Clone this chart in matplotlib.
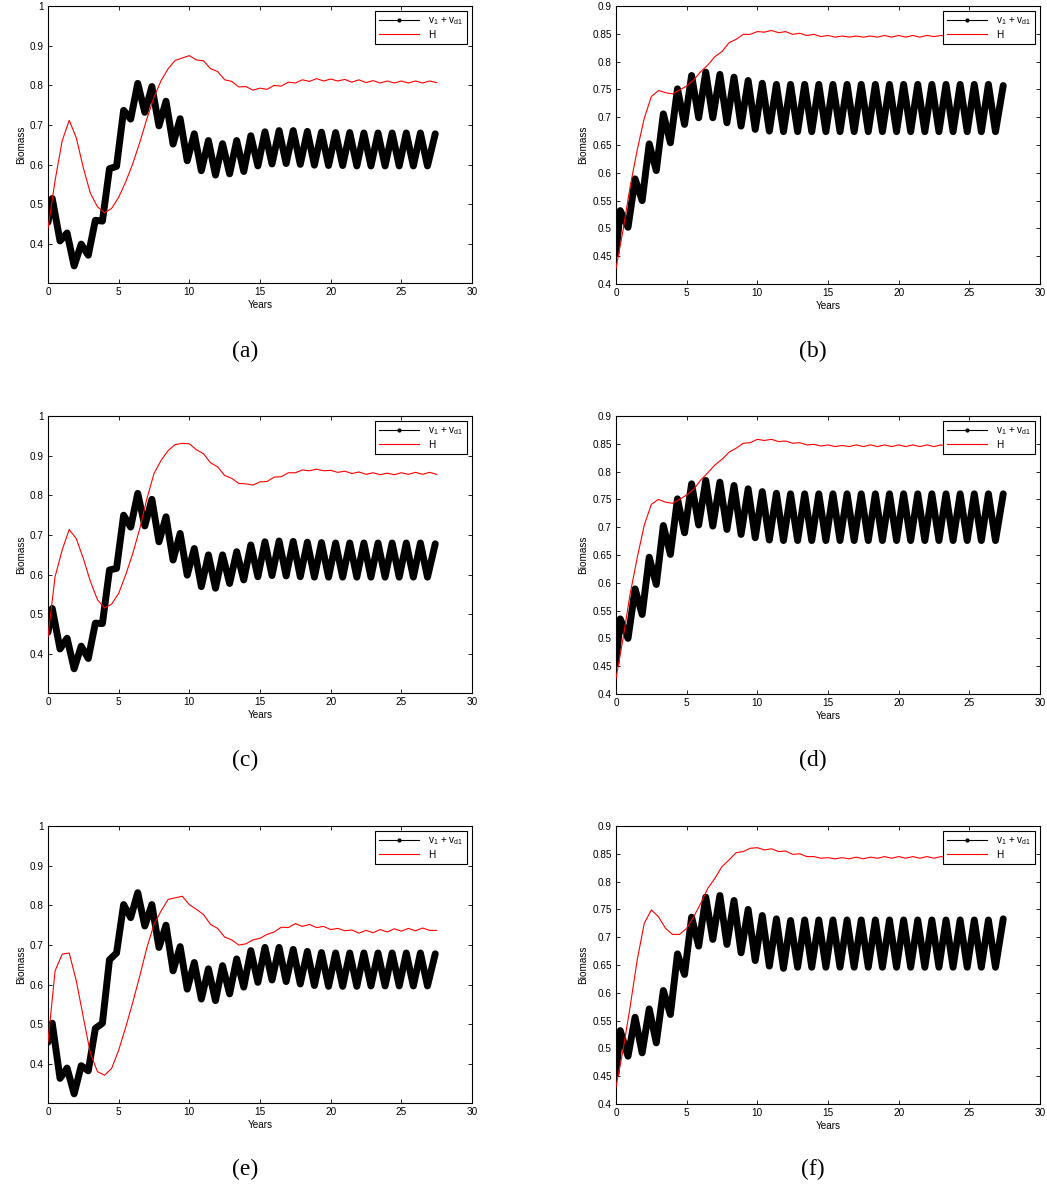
import matplotlib
matplotlib.use("Agg")
import matplotlib.pyplot as plt
from matplotlib.lines import Line2D

plt.rcParams["font.family"] = ["Liberation Sans", "DejaVu Sans"]
plt.rcParams["mathtext.fontset"] = "custom"
plt.rcParams["mathtext.rm"] = "Liberation Sans"
plt.rcParams["mathtext.it"] = "Liberation Sans"

# ---- time grids (years) ----
t_v = [0, 0.3, 0.85, 1.35, 1.85, 2.35, 2.85, 3.35, 3.85, 4.35, 4.85, 5.35,
       5.85, 6.35, 6.85, 7.35, 7.85, 8.35, 8.85, 9.35, 9.85, 10.35, 10.85,
       11.35, 11.85, 12.35, 12.85, 13.35, 13.85, 14.35, 14.85, 15.35, 15.85,
       16.35, 16.85, 17.35, 17.85, 18.35, 18.85, 19.35, 19.85, 20.35, 20.85,
       21.35, 21.85, 22.35, 22.85, 23.35, 23.85, 24.35, 24.85, 25.35, 25.85,
       26.35, 26.85, 27.4]

t_h = [0, 0.5, 1, 1.5, 2, 2.5, 3, 3.5, 4, 4.5, 5, 5.5, 6, 6.5, 7, 7.5, 8,
       8.5, 9, 9.5, 10, 10.5, 11, 11.5, 12, 12.5, 13, 13.5, 14, 14.5, 15,
       15.5, 16, 16.5, 17, 17.5, 18, 18.5, 19, 19.5, 20, 20.5, 21, 21.5, 22,
       22.5, 23, 23.5, 24, 24.5, 25, 25.5, 26, 26.5, 27, 27.5]

# ---- v1 + vd1 biomass ----
v_a = [0.455, 0.515, 0.408, 0.428, 0.345, 0.400, 0.372, 0.460, 0.458, 0.590,
       0.596, 0.737, 0.715, 0.805, 0.732, 0.797, 0.698, 0.760, 0.652, 0.716,
       0.610, 0.678, 0.585, 0.661, 0.574, 0.653, 0.577, 0.661, 0.583, 0.673,
       0.597, 0.683, 0.602, 0.686, 0.603, 0.686, 0.601, 0.684, 0.599, 0.682,
       0.598, 0.681, 0.598, 0.681, 0.597, 0.680, 0.597, 0.680, 0.597, 0.680,
       0.597, 0.680, 0.597, 0.680, 0.597, 0.678]
v_b = [0.455, 0.532, 0.502, 0.589, 0.550, 0.652, 0.604, 0.706, 0.654, 0.751,
       0.687, 0.775, 0.699, 0.781, 0.699, 0.777, 0.690, 0.772, 0.684, 0.766,
       0.678, 0.761, 0.675, 0.759, 0.674, 0.759, 0.674, 0.759, 0.674, 0.759,
       0.674, 0.759, 0.674, 0.759, 0.674, 0.759, 0.674, 0.759, 0.674, 0.759,
       0.674, 0.759, 0.674, 0.759, 0.674, 0.759, 0.674, 0.759, 0.674, 0.759,
       0.674, 0.759, 0.674, 0.759, 0.674, 0.757]
v_c = [0.455, 0.515, 0.413, 0.440, 0.363, 0.420, 0.389, 0.478, 0.477, 0.612,
       0.616, 0.750, 0.720, 0.805, 0.723, 0.790, 0.683, 0.746, 0.637, 0.704,
       0.599, 0.666, 0.570, 0.650, 0.566, 0.650, 0.578, 0.658, 0.587, 0.675,
       0.595, 0.683, 0.598, 0.685, 0.597, 0.684, 0.595, 0.682, 0.594, 0.681,
       0.594, 0.680, 0.594, 0.680, 0.594, 0.680, 0.594, 0.680, 0.594, 0.680,
       0.594, 0.680, 0.594, 0.680, 0.594, 0.678]
v_d = [0.455, 0.535, 0.500, 0.589, 0.543, 0.646, 0.597, 0.703, 0.651, 0.751,
       0.690, 0.778, 0.704, 0.784, 0.702, 0.781, 0.696, 0.775, 0.687, 0.769,
       0.681, 0.764, 0.677, 0.761, 0.676, 0.760, 0.676, 0.760, 0.676, 0.760,
       0.676, 0.760, 0.676, 0.760, 0.676, 0.760, 0.676, 0.760, 0.676, 0.760,
       0.676, 0.760, 0.676, 0.760, 0.676, 0.760, 0.676, 0.760, 0.676, 0.760,
       0.676, 0.760, 0.676, 0.760, 0.676, 0.760]
v_e = [0.455, 0.503, 0.364, 0.390, 0.325, 0.396, 0.383, 0.490, 0.503, 0.663,
       0.680, 0.802, 0.769, 0.832, 0.748, 0.802, 0.694, 0.750, 0.635, 0.696,
       0.589, 0.656, 0.564, 0.640, 0.560, 0.648, 0.577, 0.665, 0.594, 0.686,
       0.606, 0.694, 0.612, 0.694, 0.608, 0.689, 0.602, 0.684, 0.598, 0.681,
       0.596, 0.680, 0.596, 0.680, 0.596, 0.680, 0.597, 0.680, 0.597, 0.680,
       0.597, 0.680, 0.597, 0.680, 0.597, 0.678]
v_f = [0.455, 0.532, 0.486, 0.556, 0.492, 0.571, 0.510, 0.604, 0.561, 0.670,
       0.633, 0.736, 0.684, 0.772, 0.696, 0.775, 0.687, 0.766, 0.672, 0.750,
       0.658, 0.739, 0.648, 0.733, 0.644, 0.730, 0.646, 0.731, 0.646, 0.731,
       0.646, 0.731, 0.646, 0.731, 0.646, 0.731, 0.646, 0.731, 0.646, 0.731,
       0.646, 0.731, 0.646, 0.731, 0.646, 0.731, 0.646, 0.731, 0.646, 0.731,
       0.646, 0.731, 0.646, 0.731, 0.646, 0.733]

# ---- H biomass ----
h_a = [0.440, 0.560, 0.660, 0.712, 0.668, 0.592, 0.528, 0.494, 0.479, 0.490,
       0.518, 0.557, 0.603, 0.657, 0.716, 0.770, 0.812, 0.842, 0.863, 0.869,
       0.875, 0.864, 0.862, 0.842, 0.835, 0.814, 0.810, 0.796, 0.797, 0.788,
       0.793, 0.790, 0.800, 0.798, 0.808, 0.806, 0.814, 0.810, 0.817, 0.811,
       0.816, 0.811, 0.815, 0.808, 0.814, 0.807, 0.812, 0.806, 0.811, 0.806,
       0.811, 0.806, 0.811, 0.806, 0.811, 0.807]
h_b = [0.428, 0.497, 0.575, 0.641, 0.698, 0.737, 0.748, 0.744, 0.742, 0.749,
       0.756, 0.767, 0.782, 0.794, 0.809, 0.818, 0.834, 0.840, 0.849, 0.849,
       0.854, 0.853, 0.856, 0.852, 0.854, 0.849, 0.851, 0.847, 0.849, 0.845,
       0.847, 0.844, 0.846, 0.844, 0.846, 0.844, 0.846, 0.844, 0.847, 0.844,
       0.847, 0.844, 0.847, 0.844, 0.847, 0.845, 0.847, 0.845, 0.848, 0.845,
       0.848, 0.845, 0.848, 0.845, 0.848, 0.847]
h_c = [0.444, 0.595, 0.662, 0.714, 0.691, 0.641, 0.583, 0.537, 0.516, 0.526,
       0.553, 0.600, 0.654, 0.717, 0.792, 0.855, 0.888, 0.913, 0.928, 0.931,
       0.930, 0.915, 0.905, 0.882, 0.872, 0.850, 0.843, 0.830, 0.829, 0.826,
       0.834, 0.835, 0.846, 0.847, 0.857, 0.857, 0.864, 0.862, 0.866, 0.862,
       0.863, 0.858, 0.861, 0.855, 0.859, 0.853, 0.857, 0.852, 0.856, 0.852,
       0.857, 0.853, 0.858, 0.853, 0.858, 0.853]
h_d = [0.428, 0.500, 0.580, 0.645, 0.704, 0.741, 0.750, 0.745, 0.743, 0.750,
       0.758, 0.768, 0.785, 0.798, 0.812, 0.822, 0.835, 0.842, 0.851, 0.852,
       0.858, 0.856, 0.858, 0.854, 0.855, 0.851, 0.852, 0.848, 0.849, 0.846,
       0.848, 0.845, 0.847, 0.845, 0.848, 0.845, 0.848, 0.845, 0.848, 0.845,
       0.848, 0.845, 0.848, 0.845, 0.848, 0.845, 0.848, 0.845, 0.848, 0.845,
       0.848, 0.845, 0.848, 0.845, 0.848, 0.849]
h_e = [0.456, 0.635, 0.677, 0.680, 0.610, 0.518, 0.427, 0.381, 0.372, 0.389,
       0.435, 0.493, 0.556, 0.623, 0.694, 0.752, 0.786, 0.815, 0.819, 0.823,
       0.802, 0.790, 0.777, 0.752, 0.742, 0.720, 0.713, 0.700, 0.703, 0.713,
       0.717, 0.727, 0.733, 0.745, 0.744, 0.754, 0.747, 0.752, 0.744, 0.747,
       0.739, 0.742, 0.736, 0.738, 0.730, 0.737, 0.731, 0.739, 0.733, 0.741,
       0.735, 0.742, 0.736, 0.743, 0.737, 0.737]
h_f = [0.431, 0.497, 0.575, 0.659, 0.725, 0.749, 0.737, 0.716, 0.705, 0.705,
       0.716, 0.737, 0.761, 0.788, 0.806, 0.827, 0.839, 0.852, 0.854, 0.860,
       0.861, 0.857, 0.859, 0.854, 0.855, 0.849, 0.850, 0.845, 0.845, 0.842,
       0.843, 0.841, 0.843, 0.841, 0.844, 0.841, 0.844, 0.842, 0.845, 0.842,
       0.845, 0.842, 0.845, 0.842, 0.845, 0.842, 0.845, 0.842, 0.845, 0.842,
       0.845, 0.842, 0.845, 0.842, 0.845, 0.846]

captions = ["(a)", "(b)", "(c)", "(d)", "(e)", "(f)"]
x_ticks = [0, 5, 10, 15, 20, 25, 30]
y_ticks_left = [0.4, 0.5, 0.6, 0.7, 0.8, 0.9, 1.0]
y_ticks_right = [0.4, 0.45, 0.5, 0.55, 0.6, 0.65, 0.7, 0.75, 0.8, 0.85, 0.9]
y_labels_left = ["0.4", "0.5", "0.6", "0.7", "0.8", "0.9", "1"]
y_labels_right = ["0.4", "0.45", "0.5", "0.55", "0.6", "0.65", "0.7",
                  "0.75", "0.8", "0.85", "0.9"]

W, H = 1047, 1186
fig = plt.figure(figsize=(W / 100, H / 100), dpi=100)

# pixel boxes: (left, top, right, bottom)
boxes = [(48, 6, 472, 283), (616, 6, 1040, 284),
         (48, 416, 472, 693), (616, 416, 1040, 694),
         (48, 826, 472, 1103), (616, 826, 1040, 1104)]
caption_pos = [(245, 351), (813, 351), (245, 760), (813, 760),
               (245, 1169), (813, 1169)]

series = [(v_a, h_a), (v_b, h_b), (v_c, h_c), (v_d, h_d), (v_e, h_e), (v_f, h_f)]

fs = 7.2
for i, ((l, t, r, b), (v, h)) in enumerate(zip(boxes, series)):
    ax = fig.add_axes([l / W, 1 - b / H, (r - l) / W, (b - t) / H])
    ax.plot(t_v, v, color="black", lw=5.0, solid_joinstyle="round",
            solid_capstyle="round", zorder=3)
    ax.plot(t_h, h, color="#ff0000", lw=0.8, zorder=4)
    ax.set_xlim(0, 30)
    ax.set_xticks(x_ticks)
    if i % 2 == 0:
        ax.set_ylim(0.302, 1.0)
        ax.set_yticks(y_ticks_left)
        ax.set_yticklabels(y_labels_left)
    else:
        ax.set_ylim(0.4, 0.9)
        ax.set_yticks(y_ticks_right)
        ax.set_yticklabels(y_labels_right)
    ax.tick_params(direction="in", length=3.0, width=0.6, labelsize=fs,
                   top=True, right=True, pad=3)
    for s in ax.spines.values():
        s.set_linewidth(0.8)
    ax.set_xlabel("Years", fontsize=fs, labelpad=2)
    ax.set_ylabel("Biomass", fontsize=fs, labelpad=3)
    handles = [Line2D([], [], color="black", lw=0.8, marker=".", markersize=4),
               Line2D([], [], color="#ff0000", lw=0.8)]
    leg = ax.legend(handles, [r"v$_1$ + v$_{d1}$", "H"], loc="upper right",
                    fontsize=fs, handlelength=4.0, handletextpad=0.9,
                    borderpad=0.4, labelspacing=0.3, borderaxespad=0.5,
                    fancybox=False, framealpha=1, edgecolor="black")
    leg.get_frame().set_linewidth(0.8)
    leg.set_zorder(10)
    cx, cy = caption_pos[i]
    fig.text(cx / W, 1 - cy / H, captions[i], ha="center", va="center",
             fontsize=17, family="Liberation Serif")

fig.savefig("out.png", dpi=100)
